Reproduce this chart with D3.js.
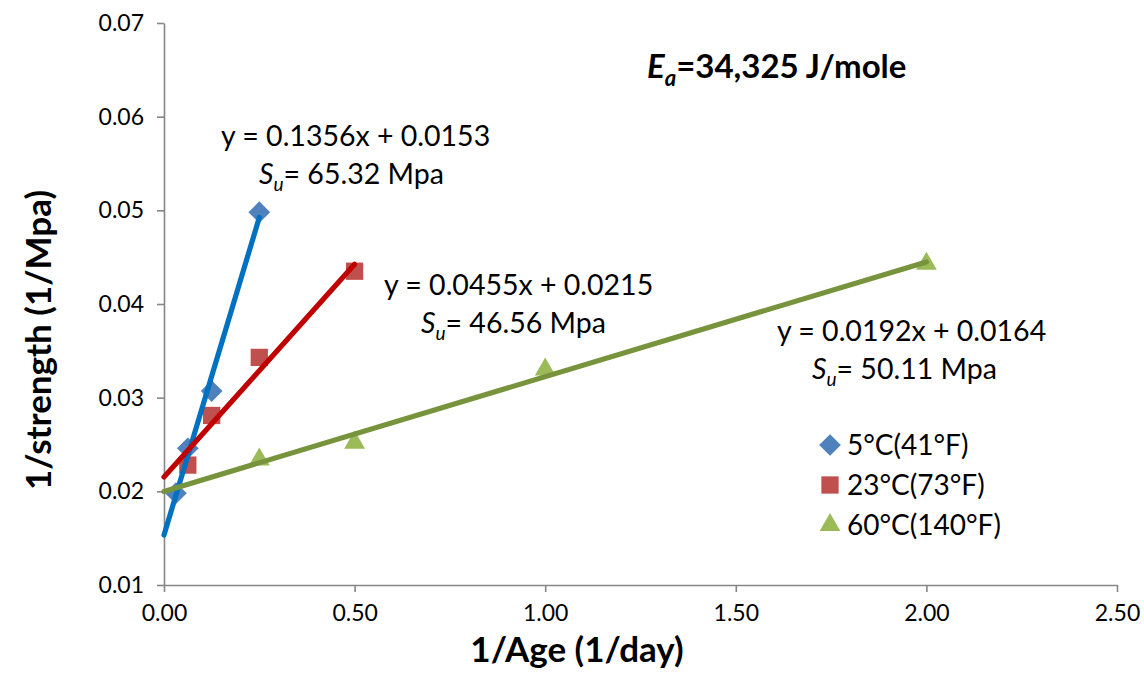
<!DOCTYPE html>
<html>
<head>
<meta charset="utf-8">
<script src="https://cdn.jsdelivr.net/npm/d3@7"></script>
<style>
  html, body { margin: 0; padding: 0; background: #fff; }
  svg { display: block; font-family: Lato, "Open Sans", sans-serif; }
</style>
</head>
<body>
<svg id="chart" width="1144" height="673"></svg>
<script>
// Inverse age (1/day) at each test age
const x5 = [0.03125, 0.0625, 0.125, 0.25];
const x23 = [0.0625, 0.125, 0.25, 0.5];
const x60 = [0.25, 0.5, 1.0, 2.0];
// Inverse strength (1/MPa)
const y5 = [0.0198, 0.0246, 0.0307, 0.0498];
const y23 = [0.0228, 0.0281, 0.0343, 0.0435];
const y60 = [0.0234, 0.0252, 0.0330, 0.0443];

const seriesNames = ["5°C(41°F)", "23°C(73°F)", "60°C(140°F)"];
const xTicks = [0, 0.5, 1.0, 1.5, 2.0, 2.5];
const yTicks = [0.01, 0.02, 0.03, 0.04, 0.05, 0.06, 0.07];
const equations = ["y = 0.1356x + 0.0153", "y = 0.0455x + 0.0215", "y = 0.0192x + 0.0164"];
const strengths = ["65.32", "46.56", "50.11"];

const series = [
  { name: seriesNames[0], xs: x5, ys: y5, shape: d3.symbolDiamond2, size: 300, fill: "#4F81BD", line: "#0070C0" },
  { name: seriesNames[1], xs: x23, ys: y23, shape: d3.symbolSquare2, size: 380, fill: "#C0504D", line: "#C00000" },
  { name: seriesNames[2], xs: x60, ys: y60, shape: d3.symbolTriangle2, size: 310, fill: "#9BBB59", line: "#77933C" }
];

const svg = d3.select("#chart");
const x = d3.scaleLinear().domain([0, 2.5]).range([164, 1117]);
const y = d3.scaleLinear().domain([0.01, 0.07]).range([585, 23]);

// Axes
const axisColor = "#868686";
const xAxis = svg.append("g").attr("transform", `translate(0,${y(0.01)})`)
  .call(d3.axisBottom(x).tickValues(xTicks).tickFormat(d3.format(".2f")).tickSize(7).tickSizeOuter(0).tickPadding(13));
const yAxis = svg.append("g").attr("transform", `translate(${x(0)},0)`)
  .call(d3.axisLeft(y).tickValues(yTicks).tickFormat(d3.format(".2f")).tickSize(7).tickSizeOuter(0).tickPadding(13));
[xAxis, yAxis].forEach(g => {
  g.select(".domain").attr("stroke", axisColor).attr("stroke-width", 1.6);
  g.selectAll(".tick line").attr("stroke", axisColor).attr("stroke-width", 1.6);
  g.selectAll(".tick text").attr("fill", "#000").style("font-size", "23px").style("font-family", "Lato, sans-serif");
});

// Axis titles
svg.append("text").attr("x", 577).attr("y", 662).attr("text-anchor", "middle")
  .style("font-size", "35px").style("font-weight", "bold").text("1/Age (1/day)");
svg.append("text").attr("transform", "translate(51,340) rotate(-90)").attr("text-anchor", "middle")
  .style("font-size", "35px").style("font-weight", "bold").text("1/strength (1/Mpa)");

// Data markers
const sym = d3.symbol();
series.forEach(s => {
  svg.append("g").selectAll("path").data(d3.zip(s.xs, s.ys)).join("path")
    .attr("transform", d => `translate(${x(d[0])},${y(d[1])})`)
    .attr("d", sym.type(s.shape).size(s.size)())
    .attr("fill", s.fill);
});

// Least-squares trend lines, drawn over the markers
series.forEach(s => {
  const mx = d3.mean(s.xs), my = d3.mean(s.ys);
  const sxy = d3.sum(s.xs, (v, i) => (v - mx) * (s.ys[i] - my));
  const sxx = d3.sum(s.xs, v => (v - mx) * (v - mx));
  const slope = sxy / sxx, icpt = my - slope * mx;
  const pts = [0, d3.max(s.xs)].map(v => [v, icpt + slope * v]);
  svg.append("path").datum(pts)
    .attr("d", d3.line().x(d => x(d[0])).y(d => y(d[1])))
    .attr("fill", "none").attr("stroke", s.line).attr("stroke-width", 5.2).attr("stroke-linecap", "round");
});

// Equation and ultimate strength labels
const labelPos = [[221, 146, 259, 184], [384, 295, 421, 333], [777, 341, 812, 379]];
labelPos.forEach((p, i) => {
  svg.append("text").attr("x", p[0]).attr("y", p[1]).style("font-size", "28.5px").text(equations[i]);
  const t = svg.append("text").attr("x", p[2]).attr("y", p[3]).style("font-size", "28.5px");
  t.append("tspan").style("font-style", "italic").text("S");
  t.append("tspan").style("font-style", "italic").style("font-size", "19px").attr("dy", 7).text("u");
  t.append("tspan").attr("dy", -7).text(`= ${strengths[i]} Mpa`);
});

// Activation energy
const ea = svg.append("text").attr("x", 647).attr("y", 78).style("font-size", "33px").style("font-weight", "bold");
ea.append("tspan").style("font-style", "italic").text("E");
ea.append("tspan").style("font-style", "italic").style("font-size", "22px").attr("dy", 8).text("a");
ea.append("tspan").attr("dy", -8).text("=34,325 J/mole");

// Legend
const legend = svg.append("g");
series.forEach((s, i) => {
  const cy = 445 + i * 40;
  legend.append("path").attr("transform", `translate(830,${cy})`)
    .attr("d", sym.type(s.shape).size(s.size)())
    .attr("fill", s.fill);
  legend.append("text").attr("x", 847).attr("y", cy + 10).style("font-size", "28px").text(s.name);
});
</script>
</body>
</html>
